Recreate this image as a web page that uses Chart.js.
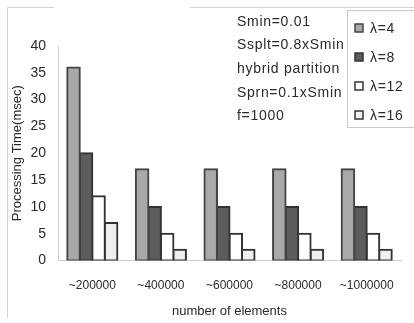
<!DOCTYPE html>
<html>
<head>
<meta charset="utf-8">
<script src="https://cdn.jsdelivr.net/npm/chart.js@4/dist/chart.umd.min.js"></script>
<style>
  html, body { margin: 0; padding: 0; background: #fff; }
  #wrap { width: 414px; height: 323px; position: relative; }
</style>
</head>
<body>
<div id="wrap"><canvas id="barChart" width="414" height="323"></canvas></div>
<script>
// element counts on the x axis
const categories = ['~200000', '~400000', '~600000', '~800000', '~1000000'];
// processing time (msec) per lambda value
const lambdaLabels = ['λ=4', 'λ=8', 'λ=12', 'λ=16'];
const lambda4 = [36, 17, 17, 17, 17];
const lambda8 = [20, 10, 10, 10, 10];
const lambda12 = [12, 5, 5, 5, 5];
const lambda16 = [7, 2, 2, 2, 2];
const yTicks = [0, 5, 10, 15, 20, 25, 30, 35, 40];
const notes = ['Smin=0.01', 'Ssplt=0.8xSmin', 'hybrid partition', 'Sprn=0.1xSmin', 'f=1000'];

const FONT = '"Liberation Sans", Arial, sans-serif';
const fills = ['#a9a9a9', '#5c5c5c', '#ffffff', '#efefef'];
const borders = ['#444', '#333', '#333', '#333'];

const series = [lambda4, lambda8, lambda12, lambda16];

// frame, parameter notes and legend box
const extras = {
  id: 'extras',
  afterDraw(chart) {
    const c = chart.ctx;
    c.save();
    c.strokeStyle = '#d4d4d4';
    c.lineWidth = 1;
    c.beginPath();
    c.moveTo(7.5, 318);
    c.lineTo(7.5, 7.5);
    c.lineTo(54, 7.5);
    c.moveTo(190, 7.5);
    c.lineTo(414, 7.5);
    c.stroke();

    c.fillStyle = '#2a2a2a';
    c.font = '14px ' + FONT;
    c.letterSpacing = '0.7px';
    c.textBaseline = 'middle';
    c.textAlign = 'left';
    notes.forEach((t, i) => c.fillText(t, 237, 22 + i * 23.6));

    // legend
    c.strokeStyle = '#c8c8c8';
    c.strokeRect(347.5, 10.5, 70, 117);
    lambdaLabels.forEach((t, i) => {
      const y = 28 + i * 29;
      c.fillStyle = fills[i];
      c.fillRect(355, y - 4, 8, 8);
      c.strokeStyle = borders[i];
      c.lineWidth = 1.5;
      c.strokeRect(355, y - 4, 8, 8);
      c.fillStyle = '#2a2a2a';
      c.fillText(t, 370, y + 1);
    });
    c.restore();
  }
};

new Chart(document.getElementById('barChart').getContext('2d'), {
  type: 'bar',
  data: {
    labels: categories,
    datasets: series.map((d, i) => ({
      label: lambdaLabels[i],
      data: d,
      backgroundColor: fills[i],
      borderColor: borders[i],
      borderWidth: 2,
      borderSkipped: false,
      inflateAmount: 1,
      categoryPercentage: 0.73,
      barPercentage: 1
    }))
  },
  options: {
    responsive: false,
    animation: false,
    devicePixelRatio: 1,
    layout: { padding: { top: 46, right: 13, left: 10, bottom: 0 } },
    scales: {
      x: {
        grid: { display: false, drawTicks: false },
        border: { color: '#cfcfcf' },
        ticks: { color: '#2a2a2a', font: { family: FONT, size: 12 }, padding: 18, maxRotation: 0, autoSkip: false },
        title: { display: true, text: 'number of elements', color: '#2a2a2a', font: { family: FONT, size: 13 }, padding: { top: 8 } },
        afterFit: s => { s.height = 62.5; }
      },
      y: {
        min: 0,
        max: 40,
        afterBuildTicks: s => { s.ticks = yTicks.map(v => ({ value: v })); },
        grid: { display: false, drawOnChartArea: false, tickLength: 3, color: '#cfcfcf' },
        border: { color: '#cfcfcf' },
        ticks: { color: '#2a2a2a', font: { family: FONT, size: 14 }, padding: 9 },
        title: { display: true, text: 'Processing Time(msec)', color: '#2a2a2a', font: { family: FONT, size: 13 }, padding: 0 },
        afterFit: s => { s.width = 48; }
      }
    },
    plugins: {
      legend: { display: false },
      tooltip: { enabled: false }
    }
  },
  plugins: [extras]
});
</script>
</body>
</html>
